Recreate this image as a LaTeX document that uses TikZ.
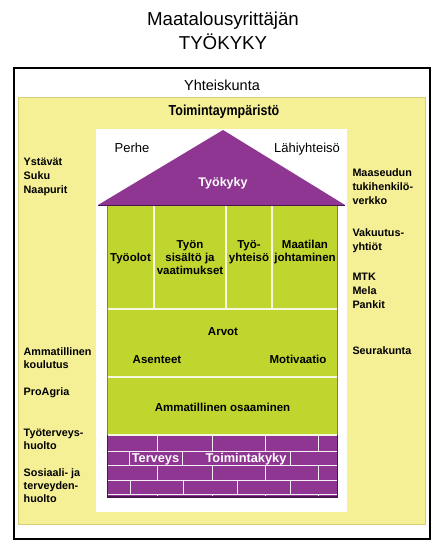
\documentclass[tikz,border=0pt]{standalone}
\usepackage{fontspec}
\setmainfont{Liberation Sans}
\newfontfamily\condsans{Liberation Sans}[FakeStretch=0.86]
\definecolor{yel}{HTML}{F5EF96}
\definecolor{yelb}{HTML}{D6CF78}
\definecolor{grn}{HTML}{C0D62E}
\definecolor{grnd}{HTML}{7C8C14}
\definecolor{pur}{HTML}{8F3592}
\definecolor{purd}{HTML}{4A1450}
\tikzset{
  side/.style={inner sep=0pt, anchor=base west, font=\bfseries\fontsize{10.8}{13}\selectfont},
  hlab/.style={inner sep=0pt, anchor=base, font=\bfseries\fontsize{11.5}{13}\selectfont},
  wlab/.style={inner sep=0pt, anchor=base, text=white, font=\bfseries\fontsize{12.8}{14}\selectfont},
  plainlab/.style={inner sep=0pt, anchor=base, font=\fontsize{13}{15}\selectfont},
  titlelab/.style={inner sep=0pt, anchor=base, font=\fontsize{18.7}{22}\selectfont},
  brick/.style={white!92!pur, line width=1pt},
  colline/.style={white!85!grn, line width=1.2pt},
}
\begin{document}
\begin{tikzpicture}[x=1pt,y=-1pt]
\useasboundingbox (0,0) rectangle (445,552);
\fill[white] (0,0) rectangle (445,552);
% title
\node[titlelab] (t1) at (223,25) {Maatalousyrittäjän};
\node[titlelab] (t2) at (223,49) {TYÖKYKY};
% frames
\draw[line width=1.2pt] (14,68) rectangle (430,539);
\node[inner sep=0pt, anchor=base, font=\fontsize{14.5}{16}\selectfont] (yh) at (222,90.5) {Yhteiskunta};
\filldraw[fill=yel, draw=yelb, line width=1pt] (18,97.5) rectangle (425,524);
\node[inner sep=0pt, anchor=base, font=\condsans\bfseries\fontsize{14.5}{16}\selectfont] (tp) at (224,115) {Toimintaympäristö};
\fill[white] (96,129) rectangle (347,512);
% green body
\fill[grn] (107,205) rectangle (338,435);
\draw[grnd, line width=0.8pt] (107.4,205) -- (107.4,435);
\draw[grnd, line width=0.8pt] (337.6,205) -- (337.6,435);
\draw[colline] (154,205) -- (154,309);
\draw[colline] (226,205) -- (226,310);
\draw[colline] (272,205) -- (272,309);
\draw[colline] (108,309) -- (337,309);
\draw[colline] (108,377) -- (337,377);
% purple base
\fill[pur] (107,435) rectangle (338,497);
\draw[colline] (108,435) -- (337,435);
\foreach \yy in {451,465.5,480.5,494} \draw[brick] (107,\yy) -- (338,\yy);
\foreach \xx in {157,212,265,318} {
  \draw[brick] (\xx,435.5) -- (\xx,451);
  \draw[brick] (\xx,465.5) -- (\xx,480.5);
  \draw[brick] (\xx,494) -- (\xx,497);
}
\foreach \xx in {129,182,290} \draw[brick] (\xx,451) -- (\xx,465.5);
\foreach \xx in {130,183,237,290} \draw[brick] (\xx,480.5) -- (\xx,494);
\draw[purd, line width=1.2pt] (107,497) -- (338,497);
\draw[purd, line width=0.8pt] (337.6,435) -- (337.6,497);
\draw[purd, line width=0.8pt] (107.4,435) -- (107.4,497);
% roof
\fill[pur] (98,205) -- (223,130) -- (345,205) -- cycle;
\draw[purd, line width=1pt] (98,205) -- (345,205);
% house texts
\node[plainlab] (perhe) at (132,152.7) {Perhe};
\node[plainlab] (lahi) at (307,152.7) {Lähiyhteisö};
\node[wlab, font=\bfseries\fontsize{12.5}{14}\selectfont] (tk) at (223,186) {Työkyky};
\node[hlab] (c1) at (130.5,261.7) {Työolot};
\node[hlab] (c2a) at (190,248.3) {Työn};
\node[hlab] (c2b) at (190,261.7) {sisältö ja};
\node[hlab] (c2c) at (190,274.5) {vaatimukset};
\node[hlab] (c3a) at (249,248.3) {Työ-};
\node[hlab] (c3b) at (249,261.7) {yhteisö};
\node[hlab] (c4a) at (305,248.3) {Maatilan};
\node[hlab] (c4b) at (305,261.7) {johtaminen};
\node[hlab] (arvot) at (223,335) {Arvot};
\node[hlab] (asen) at (157,363.3) {Asenteet};
\node[hlab] (moti) at (298,363.3) {Motivaatio};
\node[hlab] (amm) at (222.5,411.7) {Ammatillinen osaaminen};
\node[wlab] (terv) at (155.5,462.7) {Terveys};
\node[wlab] (toim) at (246,462.7) {Toimintakyky};
% left side
\node[side] (l1) at (23.5,165) {Ystävät};
\node[side] (l2) at (23.5,179.3) {Suku};
\node[side] (l3) at (23.5,193.3) {Naapurit};
\node[side] (l4) at (23.5,355) {Ammatillinen};
\node[side] (l5) at (23.5,368.3) {koulutus};
\node[side] (l6) at (23.5,395) {ProAgria};
\node[side] (l7) at (23.5,436) {Työterveys-};
\node[side] (l8) at (23.5,449.3) {huolto};
\node[side] (l9) at (23.5,476) {Sosiaali- ja};
\node[side] (l10) at (23.5,489.3) {terveyden-};
\node[side] (l11) at (23.5,502.7) {huolto};
% right side
\node[side] (r1) at (352.3,176.7) {Maaseudun};
\node[side] (r2) at (352.3,190.7) {tukihenkilö-};
\node[side] (r3) at (352.3,204.3) {verkko};
\node[side] (r4) at (352.3,236) {Vakuutus-};
\node[side] (r5) at (352.3,250) {yhtiöt};
\node[side] (r6) at (352.3,280.7) {MTK};
\node[side] (r7) at (352.3,294) {Mela};
\node[side] (r8) at (352.3,308.3) {Pankit};
\node[side] (r9) at (352.3,354) {Seurakunta};
\end{tikzpicture}
\end{document}
